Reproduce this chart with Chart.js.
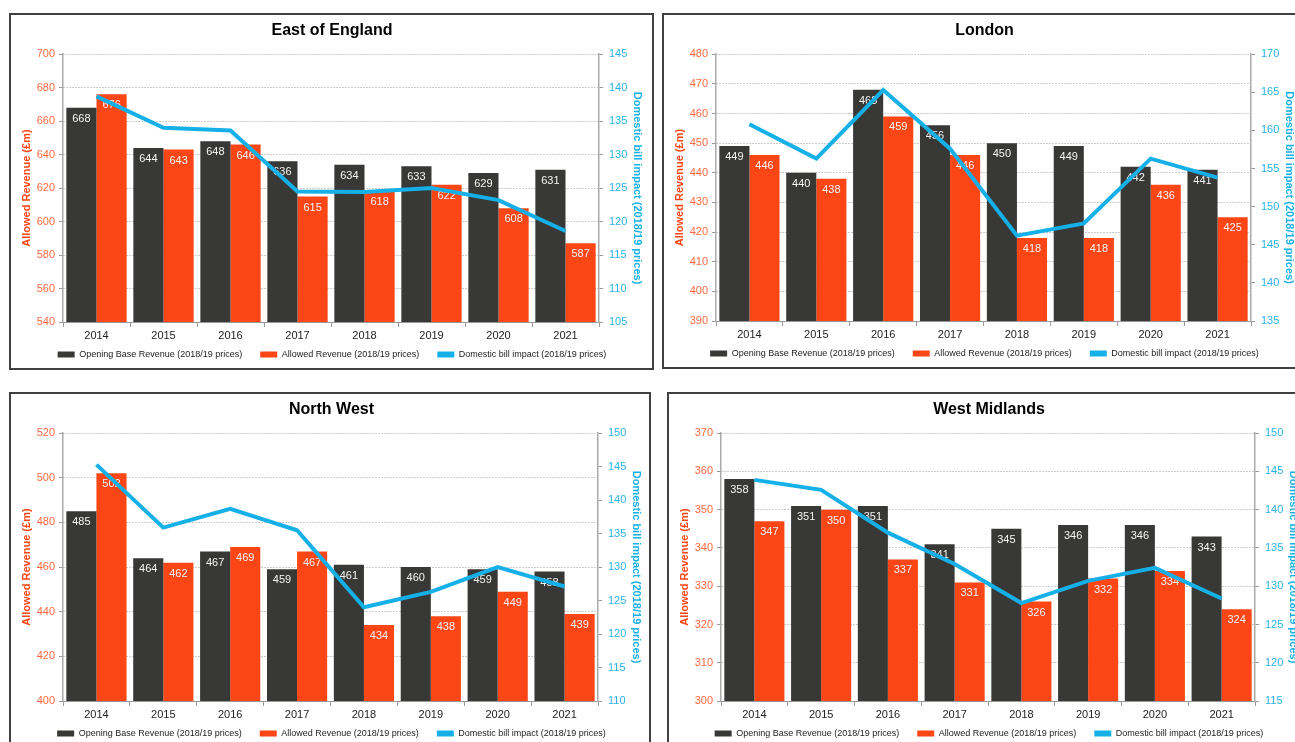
<!DOCTYPE html>
<html>
<head>
<meta charset="utf-8">
<script src="https://cdn.jsdelivr.net/npm/chart.js@4.4.0/dist/chart.umd.min.js"></script>
<style>
  html, body { margin: 0; padding: 0; background: #fff; overflow: hidden; }
  body { width: 1295px; height: 742px; position: relative; }
  .panel { position: absolute; border: 2px solid #404040; background: #fff; overflow: hidden; }
  .panel canvas { display: block; }
</style>
</head>
<body>
<div class="panel" style="left:9px;top:13px;width:641px;height:353px;"><canvas id="graphique1" width="641" height="353"></canvas></div>
<div class="panel" style="left:662px;top:13px;width:641px;height:352px;"><canvas id="graphique2" width="641" height="352"></canvas></div>
<div class="panel" style="left:9px;top:392px;width:638px;height:353px;"><canvas id="graphique3" width="638" height="353"></canvas></div>
<div class="panel" style="left:667px;top:392px;width:641px;height:353px;"><canvas id="graphique4" width="641" height="353"></canvas></div>
<script>
const annees = ["2014", "2015", "2016", "2017", "2018", "2019", "2020", "2021"];

// East of England
const eastOpening = [668, 644, 648, 636, 634, 633, 629, 631];
const eastAllowed = [676, 643, 646, 615, 618, 622, 608, 587];
const eastBill = [138.7, 134.0, 133.6, 124.5, 124.4, 125.0, 123.2, 118.6];

// London
const londonOpening = [449, 440, 468, 456, 450, 449, 442, 441];
const londonAllowed = [446, 438, 459, 446, 418, 418, 436, 425];
const londonBill = [160.8, 156.3, 165.3, 157.6, 146.2, 147.8, 156.3, 153.8];

// North West
const nwOpening = [485, 464, 467, 459, 461, 460, 459, 458];
const nwAllowed = [502, 462, 469, 467, 434, 438, 449, 439];
const nwBill = [145.3, 135.9, 138.7, 135.5, 124.0, 126.3, 130.0, 127.1];

// West Midlands
const wmOpening = [358, 351, 351, 341, 345, 346, 346, 343];
const wmAllowed = [347, 350, 337, 331, 326, 332, 334, 324];
const wmBill = [143.9, 142.6, 137.0, 132.9, 127.8, 130.7, 132.4, 128.4];

const legendNames = ["Opening Base Revenue (2018/19 prices)", "Allowed Revenue (2018/19 prices)", "Domestic bill impact (2018/19 prices)"];

const couleurSombre = "#383936";
const couleurOrange = "#fc4616";
const couleurBleu = "#16b0e8";

Chart.defaults.font.family = '"Liberation Sans", Arial, sans-serif';
Chart.defaults.animation = false;

// white value labels at the top of each bar, drawn before the line
const barLabels = {
    id: "barLabels",
    afterDatasetDraw(chart, args) {
        const ds = chart.data.datasets[args.index];
        if (ds.type !== "bar") return;
        const ctx = chart.ctx;
        ctx.save();
        ctx.font = '11px "Liberation Sans", Arial, sans-serif';
        ctx.fillStyle = "#f4f4f4";
        ctx.textAlign = "center";
        ctx.textBaseline = "middle";
        args.meta.data.forEach((bar, j) => {
            ctx.fillText(ds.data[j], bar.x, bar.y + 11);
        });
        ctx.restore();
    }
};

function graphique(id, titre, opening, allowed, bill, yMin, yMax, yStep, bMin, bMax, bStep, padRight) {
    const data = {
        labels: annees,
        datasets: [{
            type: "bar",
            label: legendNames[0],
            data: opening,
            backgroundColor: couleurSombre,
            borderWidth: 0,
            yAxisID: "y",
            order: 1,
            barPercentage: 1.0,
            categoryPercentage: 0.9
        }, {
            type: "bar",
            label: legendNames[1],
            data: allowed,
            backgroundColor: couleurOrange,
            borderWidth: 0,
            yAxisID: "y",
            order: 1,
            barPercentage: 1.0,
            categoryPercentage: 0.9
        }, {
            type: "line",
            label: legendNames[2],
            data: bill,
            borderColor: couleurBleu,
            backgroundColor: couleurBleu,
            borderWidth: 4,
            pointRadius: 0,
            tension: 0,
            yAxisID: "y1",
            order: 0
        }]
    };

    const config = {
        data: data,
        plugins: [barLabels],
        options: {
            responsive: false,
            layout: {
                padding: { left: 5, right: padRight, top: 0, bottom: -1 }
            },
            scales: {
                x: {
                    // keep the axis box short so the legend sits close, but let the labels show
                    afterFit: s => {
                        s.height = 10;
                        s._computeLabelArea = () => undefined;
                    },
                    grid: {
                        offset: true,
                        drawOnChartArea: false,
                        tickLength: 5,
                        color: "#999"
                    },
                    border: { color: "#999", width: 1 },
                    ticks: {
                        padding: 2,
                        color: "#222",
                        font: { size: 11 }
                    }
                },
                y: {
                    position: "left",
                    min: yMin,
                    max: yMax,
                    afterFit: s => { s.width = 47; },
                    ticks: {
                        stepSize: yStep,
                        padding: 4,
                        color: "#ff6a40",
                        font: { size: 11 }
                    },
                    grid: {
                        color: "#999",
                        borderDash: [1, 2],
                        tickLength: 4,
                        tickColor: "#999",
                        tickBorderDash: []
                    },
                    border: { color: "#aaa", width: 1.5, dash: [1, 2] },
                    title: {
                        display: true,
                        text: "Allowed Revenue (£m)",
                        color: "#fc4616",
                        font: { size: 11, weight: "bold" }
                    }
                },
                y1: {
                    position: "right",
                    min: bMin,
                    max: bMax,
                    afterFit: s => { s.width = 49; },
                    ticks: {
                        stepSize: bStep,
                        padding: 6,
                        color: "#2ab2e6",
                        font: { size: 11 }
                    },
                    grid: {
                        drawOnChartArea: false,
                        tickLength: 4,
                        color: "#999"
                    },
                    border: { color: "#aaa", width: 1.5 },
                    title: {
                        display: true,
                        text: "Domestic bill impact (2018/19 prices)",
                        color: "#16b0e8",
                        font: { size: 11, weight: "bold" }
                    }
                }
            },
            plugins: {
                title: {
                    display: true,
                    text: titre,
                    color: "#000",
                    padding: { top: 6, bottom: 14 },
                    font: { size: 16, weight: "bold" }
                },
                legend: {
                    display: true,
                    position: "bottom",
                    labels: {
                        boxWidth: 17,
                        boxHeight: 6,
                        padding: 18,
                        color: "#222",
                        font: { size: 9 },
                        sort: (a, b) => a.datasetIndex - b.datasetIndex,
                        generateLabels: chart => {
                            const items = Chart.defaults.plugins.legend.labels.generateLabels(chart);
                            items.forEach(it => { it.lineWidth = 0; });
                            return items;
                        }
                    }
                },
                tooltip: { enabled: false }
            }
        }
    };

    return new Chart(document.querySelector("#" + id), config);
}

graphique("graphique1", "East of England", eastOpening, eastAllowed, eastBill, 540, 700, 20, 105, 145, 5, 4);
graphique("graphique2", "London", londonOpening, londonAllowed, londonBill, 390, 480, 10, 135, 170, 5, 5);
graphique("graphique3", "North West", nwOpening, nwAllowed, nwBill, 400, 520, 20, 110, 150, 5, 2);
graphique("graphique4", "West Midlands", wmOpening, wmAllowed, wmBill, 300, 370, 10, 115, 150, 5, 6);
</script>
</body>
</html>
